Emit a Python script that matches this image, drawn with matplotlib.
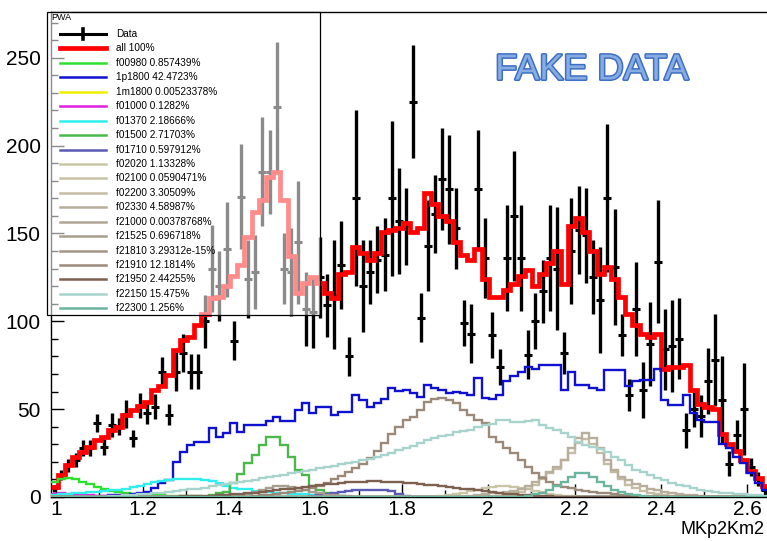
import numpy as np
import matplotlib
matplotlib.use("Agg")
import matplotlib.pyplot as plt
from matplotlib.lines import Line2D
from matplotlib.patches import Rectangle
import matplotlib.patheffects as pe

plt.rcParams['font.family'] = ['Liberation Sans', 'DejaVu Sans']

# histogram binning (K+K- mass, 100 bins)
x_lo, x_hi, n_bins = 0.987, 2.65, 100

data_y = [5, 12.5, 18, 21, 27.7, 27.7, 42, 28.6, 41, 40,
          47, 33.4, 52, 47.7, 51.4, 71.4, 46.7, 71.4, 82, 71.4,
          71.4, 100, 130, 120, 141, 89, 171, 124, 128, 185,
          185, 222, 130, 128, 145, 107, 105, 125, 109, 115,
          132, 80, 170, 120, 128, 135, 138, 170, 157, 154,
          225, 102, 143, 161, 181, 175, 153, 99, 93, 175,
          136, 92, 74, 136, 160, 136, 81, 100, 117, 136,
          130, 82, 140, 152, 149, 125, 112, 170, 131, 92,
          58, 107, 61, 87, 134, 84, 86, 90, 38, 50,
          46, 66, 78, 55, 19, 35, 50, 17, 10, 4]
data_err = [2, 3, 3.5, 4, 4.5, 4.5, 5, 4.5, 7, 5,
            8, 5, 7, 6, 7, 8.5, 6, 11, 11, 10,
            10, 15, 25, 20, 27, 11, 30, 22, 21, 31,
            24, 37, 20, 25, 35, 21, 20, 23, 18, 31,
            25, 11, 50, 26, 18, 19, 21, 44, 30, 22,
            32, 14, 26, 22, 29, 31, 23, 13, 17, 34,
            23, 13, 10, 30, 37, 30, 14, 16, 18, 30,
            35, 12, 30, 25, 27, 21, 30, 42, 33, 12,
            9, 27, 16, 24, 35, 23, 26, 23, 10, 10,
            12, 19, 26, 25, 7, 9, 26, 5, 4, 3]

total_fit = [5.9, 12.5, 18, 23, 25.8, 28.6, 32.4, 34.3, 38, 40,
             46.7, 49.5, 52, 54.3, 61, 62.9, 69.5, 83.7, 89.4, 91.3,
             98, 104, 113, 114, 120, 126, 132, 148, 162, 169,
             182, 185, 169, 137, 116, 122, 125, 122, 116, 113,
             127, 128, 142, 139, 135, 139, 151, 152, 153, 156,
             151, 153, 173, 167, 160, 157, 145, 138, 135, 141,
             124, 114, 114, 118, 121, 126, 129, 120, 127, 133,
             140, 121, 154, 159, 151, 140, 127, 131, 124, 114,
             104, 98, 93, 91, 93, 73, 74, 74, 75, 61,
             53, 51, 50, 36, 30, 26, 21, 15, 10.6, 6]

p1800 = [0.2, 0.3, 0.3, 0.4, 0.5, 0.6, 0.7, 0.8, 1.0, 1.1,
         1.3, 1.6, 2.0, 2.8, 5, 7.8, 9.7, 20, 25.8, 29.6,
         31.5, 31.5, 39, 34.4, 36.3, 42, 37.2, 41, 41, 41,
         43, 45.8, 43, 43, 49.6, 53.3, 47.6, 51.4, 51.4, 46.6,
         48.5, 48.5, 58, 55, 51.4, 53.3, 56, 62, 60.5, 61,
         59, 57, 63.8, 62, 61, 59, 60, 59, 58, 67.6,
         56.2, 56, 58, 66, 69, 71, 74, 73, 75, 75,
         75, 61, 71.4, 64, 64, 62, 61, 72, 72, 72,
         63, 66, 66.6, 66.6, 73, 55, 52.4, 52.4, 58, 47.6,
         43.8, 42.9, 42.9, 30, 27.7, 22.9, 19.2, 13.4, 8, 4]

# other waves: first bin index + bin contents
f00980_start = 0
f00980 = [8.7, 10.2, 10.6, 10.2, 8.8, 7.2, 5.8, 4.6, 3.6, 2.9, 2.3, 1.9,
          1.6, 1.4, 1.2, 1.0, 0.8, 0.6, 0.5, 0.4, 0.3]
m1800_start = 40
m1800 = [0.01, 0.02, 0.03, 0.03, 0.03, 0.02, 0.01]
f01000_start = 0
f01000 = [1.6, 2.0, 1.9, 1.6, 1.3, 1.0, 0.8, 0.6, 0.5, 0.4, 0.3, 0.2]
f01370_start = 0
f01370 = [1.2, 1.5, 1.8, 2.1, 2.4, 2.7, 3.0, 3.3, 3.7, 4.2, 4.8, 5.6, 6.5,
          7.4, 8.4, 9.2, 9.8, 10.2, 10.4, 10.4, 10.1, 9.6, 9.0, 8.2, 6.0,
          5.2, 4.8, 4.4, 3.6, 3.1, 2.8, 2.5, 2.2, 1.9, 1.7, 1.5, 1.3, 1.1,
          0.9, 0.7, 0.5]
f01500_start = 22
f01500 = [1.2, 2.0, 3.0, 7.8, 13, 19.2, 23.9, 29.6, 34.4, 34, 29.6, 23,
          15.4, 12.5, 6, 4, 2.2, 1.2, 0.6]
f01710_start = 36
f01710 = [0.5, 1.0, 1.6, 2.2, 2.8, 3.3, 3.7, 4.0, 4.1, 4.0, 3.7, 3.2, 1.5, 0.6]
f02020_start = 54
f02020 = [0.5, 1, 1.6, 2.4, 3.3, 4.2, 5.0, 5.6, 6.0, 6.1, 5.8, 5.2, 4.4,
          3.5, 2.6, 1.8, 1.2, 0.7, 0.4]
f02100_start = 60
f02100 = [0.1, 0.2, 0.3, 0.4, 0.5, 0.5, 0.4, 0.3, 0.2, 0.1]
f02200_start = 62
f02200 = [0.8, 1.2, 2, 3, 4.5, 7, 10, 13.5, 16, 21, 25, 31, 33, 30, 25,
          19, 14, 10, 7, 5, 3.5, 2.5, 1.8, 1.2, 0.8]
f02330_start = 58
f02330 = [0.8, 1.2, 1.6, 2.0, 2.5, 3.0, 3.6, 4.5, 6, 8.5, 11.5, 14.5, 17,
          21, 27.7, 33.4, 36.6, 33.4, 27.7, 21, 15.4, 11.5, 9.5, 7.5, 6,
          4.8, 3.8, 3, 2.4, 1.8, 1.3, 0.9, 0.6]
f21000_start = 50
f21000 = [0.05, 0.08, 0.1, 0.08, 0.05]
f21525_start = 25
f21525 = [0.5, 1, 1.8, 2.8, 4, 5.2, 6, 6.2, 5.8, 5, 4, 3, 2.1, 1.4, 0.9,
          0.5, 0.3]
f21810_start = 40
f21810 = [1e-13, 2e-13, 2e-13, 1e-13]
f21910_start = 28
f21910 = [0.8, 1.0, 1.3, 1.6, 2.0, 2.6, 3.3, 4.2, 5.2, 6.5, 8, 10, 12, 14,
          16.5, 19, 22, 26, 31, 36, 40, 43.8, 45.7, 49.5, 54.3, 56, 56.5,
          55, 53.3, 49.5, 46.6, 44, 41.9, 34, 31.5, 27.7, 24.9, 21.1, 17.3,
          13.5, 10.6, 8.7, 6.8, 5.8, 4.9, 4.2, 3.6, 3.0, 2.5, 2.0, 1.5, 1.0,
          0.7]
f21950_start = 18
f21950 = [0.3, 0.4, 0.5, 0.6, 0.8, 1.0, 1.2, 1.5, 1.8, 2.1, 2.5, 2.9, 3.3,
          3.8, 4.3, 4.8, 5.3, 5.8, 6.3, 6.8, 7.2, 7.6, 8.0, 8.3, 8.6, 8.8,
          8.9, 8.9, 8.8, 8.6, 8.3, 8.0, 7.8, 7.4, 7.0, 6.6, 6.2, 5.8, 5.3,
          4.8, 4.3, 3.8, 3.3, 2.8, 2.3, 1.9, 1.5, 1.2, 0.9, 0.7, 0.5, 0.3]
f22150_start = 8
f22150 = [0.6, 0.8, 1.0, 1.2, 1.5, 1.8, 2.1, 2.5, 2.9, 3.3, 3.8, 4.3, 4.8,
          5.4, 6.0, 6.6, 7.2, 7.8, 8.5, 9.2, 9.9, 10.6, 11.3, 12.0, 12.7,
          13.4, 14.1, 14.8, 15.5, 16.3, 17.0, 17.8, 18.5, 19.3, 20.1, 21.0,
          21.9, 22.8, 23.9, 25, 26.7, 27.7, 29, 30.5, 32.4, 33.4, 34.5, 35.3,
          37.2, 37.5, 38.1, 40, 41, 41.5, 43.8, 43.8, 42.9, 42.9, 43.5, 43.8,
          41, 39, 38, 36.3, 34, 31.5, 29.6, 28.7, 27.5, 25.8, 23, 21, 18,
          15.4, 14, 12.5, 11, 9.7, 8, 6.8, 6, 4.9, 4, 3.5, 3, 2.5, 2, 1.8,
          1.5, 1.2, 1, 0.8]
f22300_start = 66
f22300 = [0.8, 1.5, 2.5, 4, 6, 8.5, 11.5, 13.5, 13.5, 11.5, 8.5, 6, 4, 2.6,
          1.6, 1.0, 0.6]

components = [
    ("f00980 0.857439%", "#2ee02e", f00980_start, f00980),
    ("1p1800 42.4723%", "#1010d0", 0, p1800),
    ("1m1800 0.00523378%", "#f0f000", m1800_start, m1800),
    ("f01000 0.1282%", "#e020e0", f01000_start, f01000),
    ("f01370 2.18666%", "#30eeee", f01370_start, f01370),
    ("f01500 2.71703%", "#4cb84c", f01500_start, f01500),
    ("f01710 0.597912%", "#5a5ab4", f01710_start, f01710),
    ("f02020 1.13328%", "#c9c6a8", f02020_start, f02020),
    ("f02100 0.0590471%", "#c8c3a6", f02100_start, f02100),
    ("f02200 3.30509%", "#c4bca4", f02200_start, f02200),
    ("f02330 4.58987%", "#b8ae9c", f02330_start, f02330),
    ("f21000 0.00378768%", "#b0a696", f21000_start, f21000),
    ("f21525 0.696718%", "#a89e90", f21525_start, f21525),
    ("f21810 3.29312e-15%", "#a39585", f21810_start, f21810),
    ("f21910 12.1814%", "#9b8a7a", f21910_start, f21910),
    ("f21950 2.44255%", "#7d604f", f21950_start, f21950),
    ("f22150 15.475%", "#a9d3cd", f22150_start, f22150),
    ("f22300 1.256%", "#6cb49e", f22300_start, f22300),
]

edges = np.linspace(x_lo, x_hi, n_bins + 1)
centers = 0.5 * (edges[:-1] + edges[1:])


def full(start, vals):
    h = np.zeros(n_bins)
    h[start:start + len(vals)] = vals
    return h


W, H = 767, 541
fig = plt.figure(figsize=(W / 100, H / 100), dpi=100)
ax_l, ax_r, ax_t, ax_b = 50.5, 769.0, 12.0, 497.0
ax = fig.add_axes([ax_l / W, 1 - ax_b / H, (ax_r - ax_l) / W, (ax_b - ax_t) / H])

ax.errorbar(centers, data_y, yerr=data_err, fmt='_', color='k', ms=5.5,
            mew=2.2, elinewidth=2.4, capsize=0, zorder=2)
ax.stairs(total_fit, edges, baseline=None, color='#ff0000', lw=3.4,
          joinstyle='miter', zorder=3)
for lab, col, st, vals in components:
    ax.stairs(full(st, vals), edges, baseline=None, color=col, lw=1.7,
              joinstyle='miter', zorder=4)

ax.set_xlim(x_lo, x_hi)
ax.set_ylim(0, 276)
ax.set_xticks(np.arange(1.0, 2.61, 0.2))
ax.set_xticks(np.arange(1.0, 2.65, 0.1), minor=True)
ax.set_yticks(np.arange(0, 251, 50))
ax.set_yticks(np.arange(0, 271, 10), minor=True)
ax.xaxis.set_major_formatter(plt.FuncFormatter(lambda v, p: '%g' % round(v, 2)))
ax.tick_params(which='both', direction='in', top=False, right=False, width=1)
ax.tick_params(which='major', length=9.5, labelsize=15)
ax.tick_params(axis='y', which='major', pad=7)
ax.tick_params(axis='x', which='major', pad=2.5)
ax.tick_params(which='minor', length=5)
for s in ax.spines.values():
    s.set_linewidth(1)


def fx(px):
    return px / W


def fy(py):
    return 1 - py / H


# legend box (ROOT TLegend, semi-transparent)
fig.add_artist(Rectangle((fx(47), fy(315)), fx(320) - fx(47), fy(12) - fy(315),
                         transform=fig.transFigure, facecolor='white', alpha=0.55,
                         edgecolor='none', zorder=5))
fig.add_artist(Rectangle((fx(47), fy(315)), fx(320) - fx(47), fy(12) - fy(315),
                         transform=fig.transFigure, facecolor='none',
                         edgecolor='black', lw=0.9, zorder=6))
fig.text(fx(51), fy(17), "PWA", fontsize=6.5, ha='left', va='center', zorder=7)

rows = ["Data", "all 100%"] + [c[0] for c in components]
cols = ['k', '#ff0000'] + [c[1] for c in components]
for i, (lab, col) in enumerate(zip(rows, cols)):
    yy = 34 + 14.44 * i
    lw = 3.4 if i == 1 else (2.2 if i == 0 else 1.8)
    fig.add_artist(Line2D([fx(60), fx(106)], [fy(yy), fy(yy)], color=col, lw=lw,
                          transform=fig.transFigure, zorder=7))
    if i == 0:
        fig.add_artist(Line2D([fx(83), fx(83)], [fy(yy - 5), fy(yy + 5)], color='k',
                              lw=2.6, transform=fig.transFigure, zorder=7))
    fig.text(fx(116), fy(yy), lab, fontsize=7.2, ha='left', va='center', zorder=7)

fig.text(fx(765), fy(530), "MKp2Km2", fontsize=13, ha='right', va='center')
fig.text(fx(592), fy(70), "FAKE DATA", fontsize=26, ha='center', va='center',
         color='#86acE2',
         path_effects=[pe.withStroke(linewidth=2.2, foreground='#3f6fc4')])

fig.savefig("out.png", dpi=100)
